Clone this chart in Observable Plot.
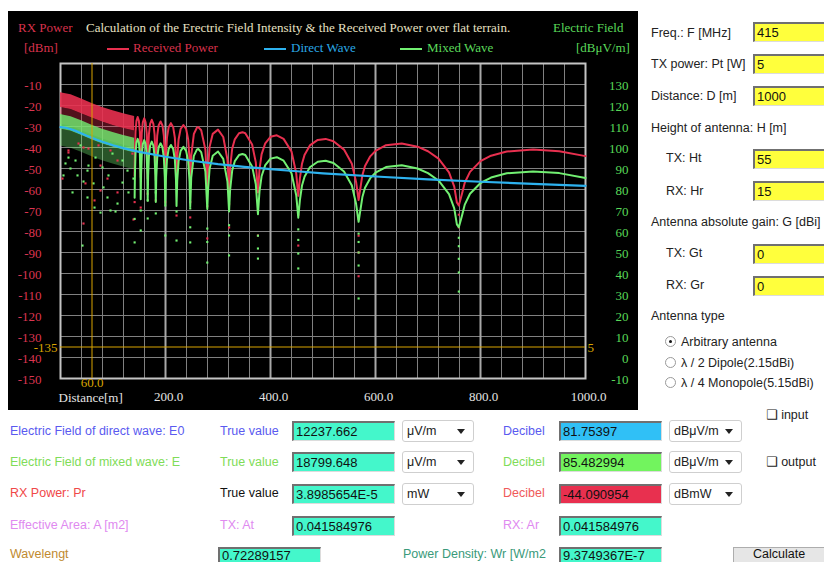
<!DOCTYPE html>
<html><head><meta charset="utf-8">
<script src="https://cdn.jsdelivr.net/npm/d3@7"></script>
<script src="https://cdn.jsdelivr.net/npm/@observablehq/plot@0.6"></script>
<style>
body{margin:0;background:#fff;width:824px;height:562px;overflow:hidden;position:relative;font-family:"Liberation Sans",Arial,sans-serif;}
.a{position:absolute;white-space:nowrap;}
#panel{position:absolute;left:8px;top:11px;width:630px;height:399px;background:#000;}
#chart{position:absolute;left:8px;top:11px;}
.s{font-family:"Liberation Serif","Times New Roman",serif;font-size:13px;line-height:16px;height:16px;}
.l{font-size:12.5px;line-height:16px;height:16px;color:#222;}
.inp{position:absolute;height:20px;box-sizing:border-box;border-top:2px solid #707070;border-left:2px solid #707070;border-right:1px solid #dcdcdc;border-bottom:1px solid #dcdcdc;font-size:13px;line-height:17px;padding-left:2px;color:#111;white-space:nowrap;overflow:hidden;}
.y{background:#ffff3c;width:80px;left:753px;}
.t{background:#44f7cb;width:103px;}
.bot{height:16px;line-height:13px;border-bottom:none;}
.sel{position:absolute;height:22px;box-sizing:border-box;border:1px solid #cfcfcf;border-radius:3px;background:#fff;font-size:12.5px;line-height:20px;padding-left:4px;color:#222;}
.sel b{position:absolute;right:8px;top:8px;width:0;height:0;border-left:4px solid transparent;border-right:4px solid transparent;border-top:5px solid #222;}
.rad{position:absolute;width:9px;height:9px;border:1px solid #9a9a9a;border-radius:50%;background:#fff;}
.rad i{position:absolute;left:3px;top:3px;width:3px;height:3px;border-radius:50%;background:#111;}
.leg{position:absolute;height:2px;}
.cb{font-family:"DejaVu Sans";font-size:13px;}
</style></head><body>
<div id="panel"></div>
<div id="chart"></div>

<!-- chart header texts -->
<div class="a s" style="left:18px;top:20px;color:#d8324c">RX Power</div>
<div class="a s" style="left:86px;top:20px;color:#e8e2c4">Calculation of the Erectric Field Intensity &amp; the Received Power over flat terrain.</div>
<div class="a s" style="left:553px;top:20px;color:#5ad85a">Electric Field</div>
<div class="a s" style="left:24px;top:40px;color:#d8324c">[dBm]</div>
<div class="leg" style="left:107px;top:48px;width:22px;background:#e8304f"></div>
<div class="a s" style="left:133px;top:40px;color:#d8324c">Received Power</div>
<div class="leg" style="left:264px;top:48px;width:22px;background:#2db2ef"></div>
<div class="a s" style="left:291px;top:40px;color:#2aa8e6">Direct Wave</div>
<div class="leg" style="left:400px;top:48px;width:22px;background:#72f072"></div>
<div class="a s" style="left:427px;top:40px;color:#5ad85a">Mixed Wave</div>
<div class="a s" style="left:576px;top:40px;color:#5ad85a">[dBμV/m]</div>

<!-- right-hand form -->
<div class="a l" style="left:651px;top:25px">Freq.: F [MHz]</div>
<div class="inp y" style="top:22px">415</div>
<div class="a l" style="left:651px;top:56px">TX power: Pt [W]</div>
<div class="inp y" style="top:54px">5</div>
<div class="a l" style="left:651px;top:88px">Distance: D [m]</div>
<div class="inp y" style="top:86px">1000</div>
<div class="a l" style="left:651px;top:120px">Height of antenna: H [m]</div>
<div class="a l" style="left:666px;top:150px">TX: Ht</div>
<div class="inp y" style="top:149px">55</div>
<div class="a l" style="left:666px;top:183px">RX: Hr</div>
<div class="inp y" style="top:181px">15</div>
<div class="a l" style="left:651px;top:214px">Antenna absolute gain: G [dBi]</div>
<div class="a l" style="left:666px;top:245px">TX: Gt</div>
<div class="inp y" style="top:244px">0</div>
<div class="a l" style="left:666px;top:277px">RX: Gr</div>
<div class="inp y" style="top:276px">0</div>
<div class="a l" style="left:651px;top:308px">Antenna type</div>
<div class="rad" style="left:665px;top:336px"><i></i></div>
<div class="a l" style="left:681px;top:334px">Arbitrary antenna</div>
<div class="rad" style="left:665px;top:357px"></div>
<div class="a l" style="left:681px;top:355px">λ / 2 Dipole(2.15dBi)</div>
<div class="rad" style="left:665px;top:377px"></div>
<div class="a l" style="left:681px;top:375px">λ / 4 Monopole(5.15dBi)</div>

<!-- bottom form -->
<div class="a l" style="left:10px;top:423px;color:#5a5af0">Electric Field of direct wave: E0</div>
<div class="a l" style="left:220px;top:423px;color:#5a5af0">True value</div>
<div class="inp t" style="left:292px;top:421px">12237.662</div>
<div class="sel" style="left:402px;top:420px;width:72px">μV/m<b></b></div>
<div class="a l" style="left:503px;top:423px;color:#5a5af0">Decibel</div>
<div class="inp t" style="left:559px;top:421px;background:#30c0f6">81.75397</div>
<div class="sel" style="left:669px;top:420px;width:73px">dBμV/m<b></b></div>
<div class="a l" style="left:766px;top:407px"><span class="cb">❑</span> input</div>

<div class="a l" style="left:10px;top:454px;color:#80dc58">Electric Field of mixed wave: E</div>
<div class="a l" style="left:220px;top:454px;color:#80dc58">True value</div>
<div class="inp t" style="left:292px;top:452px">18799.648</div>
<div class="sel" style="left:402px;top:451px;width:72px">μV/m<b></b></div>
<div class="a l" style="left:503px;top:454px;color:#80dc58">Decibel</div>
<div class="inp t" style="left:559px;top:452px;background:#72f45e">85.482994</div>
<div class="sel" style="left:669px;top:451px;width:73px">dBμV/m<b></b></div>
<div class="a l" style="left:766px;top:454px"><span class="cb">❑</span> output</div>

<div class="a l" style="left:10px;top:485px;color:#f04848">RX Power: Pr</div>
<div class="a l" style="left:220px;top:485px;color:#111">True value</div>
<div class="inp t" style="left:292px;top:484px">3.8985654E-5</div>
<div class="sel" style="left:402px;top:483px;width:72px">mW<b></b></div>
<div class="a l" style="left:503px;top:485px;color:#f05a5a">Decibel</div>
<div class="inp t" style="left:559px;top:484px;background:#e8304f">-44.090954</div>
<div class="sel" style="left:669px;top:483px;width:73px">dBmW<b></b></div>

<div class="a l" style="left:10px;top:517px;color:#e08af0">Effective Area: A [m2]</div>
<div class="a l" style="left:220px;top:517px;color:#e08af0">TX: At</div>
<div class="inp t" style="left:292px;top:516px">0.041584976</div>
<div class="a l" style="left:503px;top:517px;color:#e08af0">RX: Ar</div>
<div class="inp t" style="left:559px;top:516px">0.041584976</div>

<div class="a l" style="left:10px;top:546px;color:#c08a30">Wavelengt</div>
<div class="inp t bot" style="left:218px;top:547px">0.72289157</div>
<div class="a l" style="left:403px;top:546px;color:#3a9a7a">Power Density: Wr [W/m2</div>
<div class="inp t bot" style="left:559px;top:547px">9.3749367E-7</div>
<div class="a" style="left:733px;top:547px;width:100px;height:15px;box-sizing:border-box;background:#e6e6e6;border:1px solid #adadad;border-bottom:none;font-size:12.5px;line-height:13px;padding-left:19px;color:#111">Calculate</div>

<script>
// ---- data ----
const OFFSET = 140; // right axis [dBμV/m] = left axis [dBm] + 140

// smooth two-ray curves (distance m, received power dBm, mixed wave dBμV/m)
const curveDist = [
  141.2,141.8,142.9,144.7,147.0,149.3,151.1,152.2,
  152.8,153.5,154.8,156.8,159.5,162.1,164.1,165.4,
  166.1,166.9,168.4,170.7,173.8,176.9,179.2,180.7,
  181.5,182.4,184.2,186.9,190.6,194.2,196.9,198.7,
  199.6,200.7,202.8,206.0,210.3,214.6,217.8,219.9,
  221.0,222.3,224.9,228.8,234.1,239.3,243.2,245.8,
  247.1,249,254,260,262.5,268,276,
  279.6,281,284,290,300,310,318,
  321.1,323,327,332,340,346.6,352,365,372,
  376.1,379,383,390,400,412,425,440,449,
  452.9,456,460,465,475,490,505,520,540,555,563,
  567.8,575,580,590,600,620,650,680,700,720,740,750,755,
  758.7,765,770,780,800,820,850,900,950,1000
];
const receivedPower = [
  -53.5,-41.6,-32.3,-27.3,-25.5,-27.3,-32.3,-41.6,
  -54.2,-42.3,-33.0,-28.0,-26.1,-28.0,-33.0,-42.3,
  -54.9,-43.0,-33.7,-28.7,-26.8,-28.7,-33.7,-43.0,
  -55.6,-43.7,-34.5,-29.5,-27.6,-29.5,-34.5,-43.7,
  -56.5,-44.6,-35.3,-30.3,-28.4,-30.3,-35.3,-44.6,
  -57.4,-45.5,-36.2,-31.2,-29.3,-31.2,-36.2,-45.5,
  -57.8,-43.9,-33.6,-30.5,-30.3,-31.8,-41.0,
  -58.9,-49.8,-39.7,-33.5,-31.5,-35.0,-45.8,
  -60.1,-50.0,-40.6,-36.1,-33.2,-32.7,-33.2,-38.6,-47.1,
  -61.4,-50.6,-43.3,-38.0,-34.9,-34.2,-35.9,-41.9,-52.3,
  -63.0,-54.7,-47.7,-43.4,-39.0,-36.4,-35.9,-37.0,-41.0,-47.7,-56.4,
  -65.0,-53.2,-48.8,-44.2,-41.6,-38.9,-38.1,-39.6,-41.8,-45.3,-51.8,-58.6,-66.2,
  -67.6,-61.8,-56.8,-51.6,-46.5,-43.9,-41.9,-41.0,-41.8,-44.1
];
const mixedWave = [
  76.1,88.0,97.3,102.3,104.1,102.3,97.3,88.0,
  75.4,87.3,96.6,101.6,103.5,101.6,96.6,87.3,
  74.7,86.6,95.9,100.9,102.8,100.9,95.9,86.6,
  74.0,85.9,95.1,100.1,102.0,100.1,95.1,85.9,
  73.1,85.0,94.3,99.3,101.2,99.3,94.3,85.0,
  72.2,84.1,93.4,98.4,100.3,98.4,93.4,84.1,
  71.8,85.7,96.0,99.1,99.3,97.8,88.6,
  70.7,79.8,89.9,96.1,98.1,94.6,83.8,
  69.5,79.6,89.0,93.5,96.4,96.9,96.4,91.0,82.5,
  68.2,79.0,86.3,91.6,94.7,95.4,93.7,87.7,77.3,
  66.6,74.9,81.9,86.2,90.6,93.2,93.7,92.6,88.6,81.9,73.2,
  64.6,76.4,80.8,85.4,88.0,90.7,91.5,90.0,87.8,84.3,77.8,71.0,63.4,
  62.0,67.8,72.8,78.0,83.1,85.7,87.7,88.6,87.8,85.5
];

// direct wave [dBμV/m]
const directDist = [0,10,20,30,40,50,60,70,80,100,120,150,200,250,300,350,400,450,500,600,700,800,900,1000];
const directWave = [109.7,109.4,108.7,107.8,106.7,105.6,104.6,103.6,102.7,101.1,99.7,97.9,95.6,93.7,92.1,90.8,89.7,88.7,87.7,86.2,84.8,83.7,82.7,81.75];

// dense near-field region (rapid interference), band of sampled points
const nearDist     = [0,20,40,60,80,100,120,141.2];
const rxNearTop    = [-13.9,-14.9,-16.9,-19.0,-20.9,-22.5,-23.9,-25.2];
const rxNearBottom = [-20.9,-21.9,-23.9,-26.0,-27.9,-29.5,-30.9,-32.2];
const rxNearFloor  = [-28.9,-29.9,-31.9,-34.0,-35.9,-37.5,-38.9,-40.2];
const mixNearTop    = [115.7,114.7,112.7,110.6,108.7,107.1,105.7,104.4];
const mixNearBottom = [108.7,107.7,105.7,103.6,101.7,100.1,98.7,97.4];
const mixNearFloor  = [100.7,99.7,97.7,95.6,93.7,92.1,90.7,89.4];

// isolated sample points (deep nulls / scatter)
const rxScatterDist  = [3.8,15.2,15.2,34.3,43.8,43.8,47.6,53.3,64.8,72.4,76.2,76.2,89.5,95.2,108.6,108.6,137,139,
  141.2,152.8,166.1,181.5,199.6,221,247.1,247.1,279.6,279.6,321.1,321.1,376.1,376.1,452.9,452.9,567.8,567.8,567.8,567.8,758.7,758.7];
const rxScatterValue = [-54.8,-42.4,-41.4,-38.1,-40,-76.2,-57.1,-40.5,-65.2,-39,-48.6,-60.5,-54.8,-41.4,-46.2,-61.4,-42.9,-74.3,
  -66,-68.6,-62,-65.2,-66,-72.4,-66,-73.3,-68,-83.3,-67,-78.1,-70,-81.9,-72,-86.7,-74,-82,-90,-101.3,-72,-78];
const mixScatterDist  = [5.7,9.5,15.2,19,22.9,28.6,32.4,38.1,41.9,43.8,51.4,51.4,53.3,62.9,64.8,66.7,76.2,80,81.9,89.5,91.4,95.2,99,104.8,108.6,118.1,118.1,127.6,129.5,139,
  141.2,141.2,152.8,152.8,166.1,166.1,181.5,181.5,199.6,199.6,221,221,247.1,247.1,247.1,279.6,279.6,279.6,321.1,321.1,321.1,376.1,376.1,376.1,
  452.9,452.9,452.9,452.9,567.8,567.8,567.8,567.8,567.8,758.7,758.7,758.7,758.7,758.7];
const mixScatterValue = [86.7,92.4,95.2,90,78.6,93.8,86.7,101,53.3,83.8,76.2,89,91.4,82.9,71.4,95.2,69,90.5,81,76.2,86.7,70,97.1,69.5,73.3,83.3,93.8,89,78.6,85.2,
  54.8,66,60.5,70,66.2,74.8,68.6,78.6,58.1,72.4,55.7,69.5,54.8,62,71,45.2,55,61.4,48.6,58.1,63,47.1,51.9,58,
  42.4,49.5,56,61,28.1,43.8,50,55,59,31.4,40.5,47,53,57];

// axes / ticks
const leftTicks = [-150,-140,-130,-120,-110,-100,-90,-80,-70,-60,-50,-40,-30,-20,-10];
const gridY = [-140,-130,-120,-110,-100,-90,-80,-70,-60,-50,-40,-30,-20,-10];
const gridXMinor = d3.range(40, 1000, 40);
const gridXMajor = [200,400,600,800];
const xLabelTicks = [200,400,600,800,1000];
const markDistance = 60;   // m
const markLevel = -135;    // dBm

// ---- build rows ----
const curve = curveDist.map((d,i)=>({d, rx: receivedPower[i], mix: mixedWave[i]}));
const direct = directDist.map((d,i)=>({d, v: directWave[i]}));
const near = nearDist.map((d,i)=>({d, rt: rxNearTop[i], rb: rxNearBottom[i], rf: rxNearFloor[i],
  mt: mixNearTop[i], mb: mixNearBottom[i], mf: mixNearFloor[i]}));
const rxDots = rxScatterDist.map((d,i)=>({d, v: rxScatterValue[i]}));
const mixDots = mixScatterDist.map((d,i)=>({d, v: mixScatterValue[i]}));

const RED="#e8304f", GREEN="#72f072", BLUE="#2db2ef", ORANGE="#d9a400";

const chart = Plot.plot({
  width: 630, height: 399,
  marginLeft: 52, marginRight: 53, marginTop: 52, marginBottom: 32,
  x: {domain: [0, 1000], axis: null},
  y: {domain: [-150, 0], axis: null},
  style: {background: "transparent", overflow: "visible", fontFamily: "Liberation Serif, Times New Roman, serif"},
  marks: [
    Plot.ruleX(gridXMinor, {stroke: "#808080", strokeWidth: 1}),
    Plot.ruleY(gridY, {stroke: "#808080", strokeWidth: 1}),
    Plot.ruleX(gridXMajor, {stroke: "#a8a8a8", strokeWidth: 2}),
    Plot.frame({stroke: "#c4c4c4", strokeWidth: 2}),
    // near-field dense sampling
    Plot.areaY(near, {x: "d", y1: "rf", y2: "rb", fill: RED, fillOpacity: 0.35}),
    Plot.areaY(near, {x: "d", y1: "rb", y2: "rt", fill: RED, fillOpacity: 0.9}),
    Plot.areaY(near, {x: "d", y1: r => r.mf - OFFSET, y2: r => r.mb - OFFSET, fill: GREEN, fillOpacity: 0.35}),
    Plot.areaY(near, {x: "d", y1: r => r.mb - OFFSET, y2: r => r.mt - OFFSET, fill: GREEN, fillOpacity: 0.8}),
    // received power
    Plot.line(curve, {x: "d", y: "rx", stroke: RED, strokeWidth: 2}),
    Plot.dot(rxDots, {x: "d", y: "v", symbol: "square", r: 1.2, fill: RED}),
    // mixed wave
    Plot.line(curve, {x: "d", y: r => r.mix - OFFSET, stroke: GREEN, strokeWidth: 2}),
    Plot.dot(mixDots, {x: "d", y: r => r.v - OFFSET, symbol: "square", r: 1.2, fill: GREEN}),
    // direct wave
    Plot.line(direct, {x: "d", y: r => r.v - OFFSET, stroke: BLUE, strokeWidth: 2.2}),
    // markers
    Plot.ruleX([markDistance], {stroke: ORANGE, strokeWidth: 1}),
    Plot.ruleY([markLevel], {stroke: ORANGE, strokeWidth: 1}),
    // tick labels
    Plot.text(leftTicks, {y: d => d, frameAnchor: "left", dx: -19, dy: 1, textAnchor: "end", text: d => String(d), fill: "#dc3550", fontSize: 13}),
    Plot.text(leftTicks, {y: d => d, frameAnchor: "right", dx: 43, dy: 1, textAnchor: "end", text: d => String(d + OFFSET), fill: "#58d858", fontSize: 13}),
    Plot.text([markLevel], {y: d => d, frameAnchor: "left", dx: -3, dy: 1, textAnchor: "end", text: d => String(d), fill: ORANGE, fontSize: 13}),
    Plot.text([markLevel], {y: d => d, frameAnchor: "right", dx: 2, dy: 1, textAnchor: "start", text: d => String(d + OFFSET), fill: ORANGE, fontSize: 13}),
    Plot.text(xLabelTicks, {x: d => d, frameAnchor: "bottom", dx: 3, dy: 22, text: d => d.toFixed(1), fill: "#e4e4e4", fontSize: 13}),
    Plot.text([markDistance], {x: d => d, frameAnchor: "bottom", dy: 8, text: d => d.toFixed(1), fill: ORANGE, fontSize: 13}),
    Plot.text(["Distance[m]"], {frameAnchor: "bottom-left", dx: -2, dy: 23, textAnchor: "start", text: d => d, fill: "#e4e4e4", fontSize: 13})
  ]
});
document.getElementById("chart").appendChild(chart);
</script>
</body></html>
